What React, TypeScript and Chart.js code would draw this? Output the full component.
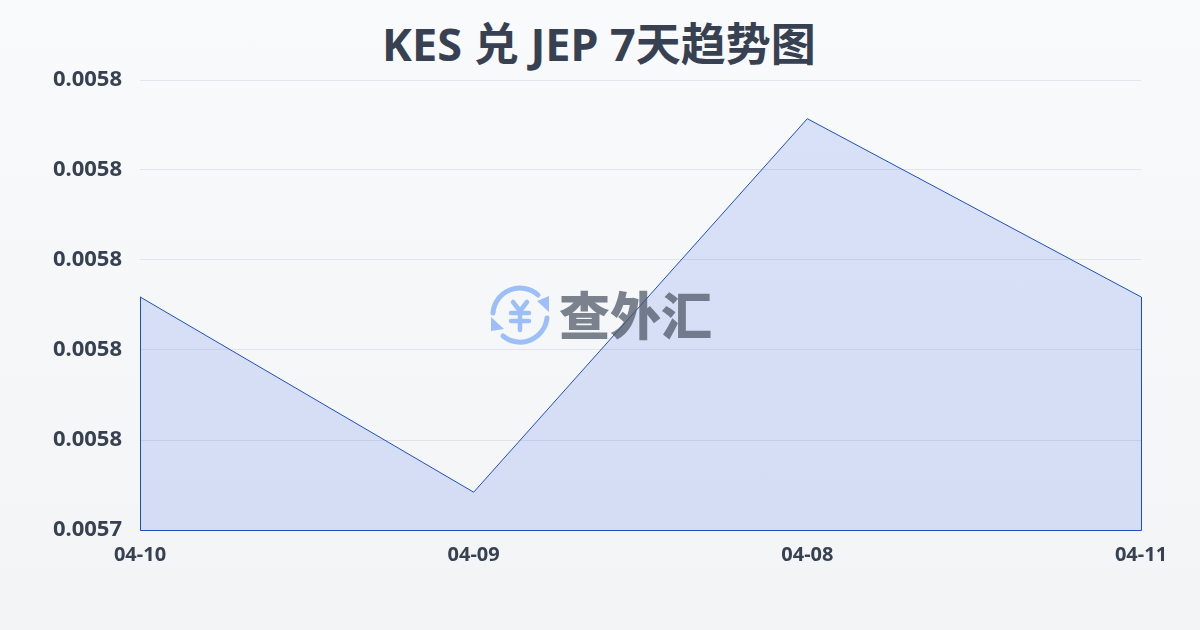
import * as React from 'react';
import { useEffect, useRef } from 'react';
import { Chart, registerables } from 'chart.js';

Chart.register(...registerables);

const dates = ['04-10', '04-09', '04-08', '04-11'];
const rates = [0.0057759, 0.0057542, 0.0057957, 0.0057759];
const yTicks = ['0.0057', '0.0058', '0.0058', '0.0058', '0.0058', '0.0058'];

const TEXT = '#374151';
const LINE = '#1d4fc4';
const FONT = '"Noto Sans", "Noto Sans CJK SC", sans-serif';

// the series outline also runs down both sides and along the bottom
const areaEdges = {
  id: 'areaEdges',
  afterDatasetsDraw(chart: any) {
    const { ctx, chartArea } = chart;
    const pts = chart.getDatasetMeta(0).data;
    const first = pts[0];
    const last = pts[pts.length - 1];
    ctx.save();
    ctx.strokeStyle = LINE;
    ctx.lineWidth = 1;
    ctx.beginPath();
    ctx.moveTo(first.x + 0.5, first.y);
    ctx.lineTo(first.x + 0.5, chartArea.bottom + 0.5);
    ctx.lineTo(last.x + 0.5, chartArea.bottom + 0.5);
    ctx.lineTo(last.x + 0.5, last.y);
    ctx.stroke();
    ctx.restore();
  },
};

const Logo = () => (
  <div style={{ position: 'absolute', left: 488, top: 282, width: 230, height: 66, pointerEvents: 'none' }}>
    <svg width="64" height="66" viewBox="0 0 64 66" style={{ position: 'absolute', left: 0, top: 0 }}>
      <g fill="none" stroke="#9dbff8" strokeWidth="5" strokeLinecap="round">
        <path d="M5 31 A27 27 0 0 1 50 13" />
        <path d="M59 36 A27 27 0 0 1 15 54" />
        <path d="M25 20 L32 29 L39 20 M23 31 H41 M23 39 H41 M32 30 V48" strokeWidth="4.5" />
      </g>
      <path d="M49 19 L61 14 L61 30 Z" fill="#9dbff8" />
      <path d="M3 35 L3 49 L16 47 Z" fill="#9dbff8" />
    </svg>
    <div style={{ position: 'absolute', left: 71, top: -4, fontFamily: '"Noto Sans CJK SC"', fontWeight: 900, fontSize: 51, lineHeight: '70px', letterSpacing: 0, color: 'rgba(75,85,99,0.72)', whiteSpace: 'nowrap' }}>
      查外汇
    </div>
  </div>
);

export default function App() {
  const canvasRef = useRef<HTMLCanvasElement>(null);

  useEffect(() => {
    document.body.style.margin = '0';
    const chart = new Chart(canvasRef.current as any, {
      type: 'line',
      data: {
        labels: dates,
        datasets: [{
          data: rates,
          borderColor: LINE,
          borderWidth: 1,
          backgroundColor: 'rgba(37,90,225,0.15)',
          fill: 'origin',
          tension: 0,
          pointRadius: 0,
        }],
      },
      options: {
        responsive: false,
        animation: false,
        layout: { padding: { top: 80, right: 59 } },
        plugins: {
          legend: { display: false },
          tooltip: { enabled: false },
        },
        scales: {
          x: {
            offset: false,
            grid: { display: false },
            border: { display: false },
            afterFit: (scale: any) => { scale.height = 100; },
            ticks: { color: TEXT, font: { family: FONT, size: 20, weight: 'bold' }, maxRotation: 0, autoSkip: false, padding: 5 },
          },
          y: {
            min: 0.00575,
            max: 0.0058,
            grid: { color: 'rgba(55,65,81,0.1)', drawTicks: false },
            border: { display: false },
            afterFit: (scale: any) => { scale.width = 140; },
            ticks: {
              stepSize: 0.00001,
              color: TEXT,
              padding: 18,
              font: { family: FONT, size: 22, weight: 'bold' },
              callback: (_v: any, i: number) => yTicks[i],
            },
          },
        },
      },
      plugins: [areaEdges],
    } as any);
    return () => chart.destroy();
  }, []);

  return (
    <div style={{ position: 'relative', width: 1200, height: 630, background: 'linear-gradient(180deg,#f8fafc,#f3f4f6)', overflow: 'hidden' }}>
      <div style={{ position: 'absolute', left: -1, width: 1200, top: 17, textAlign: 'center', color: TEXT, fontFamily: FONT, fontSize: 45, fontWeight: 700, lineHeight: '54px', whiteSpace: 'nowrap' }}>
        KES 兑 JEP 7天趋势图
      </div>
      <canvas ref={canvasRef} width={1200} height={630} style={{ display: 'block', position: 'relative' }} />
      <Logo />
    </div>
  );
}
